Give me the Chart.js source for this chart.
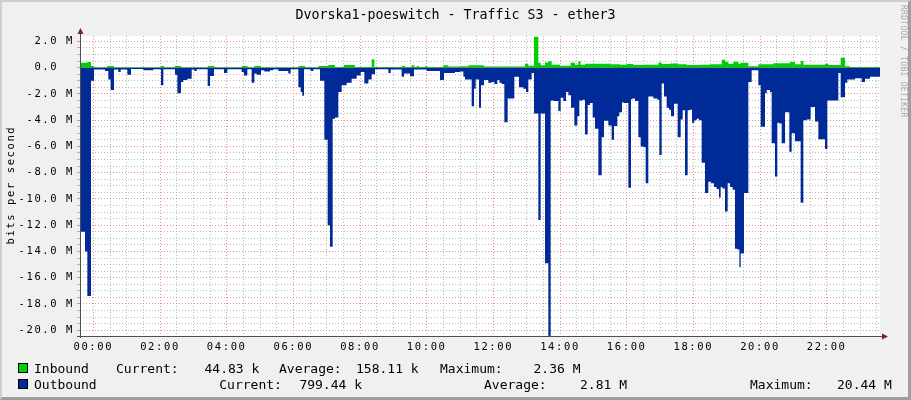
<!DOCTYPE html>
<html><head><meta charset="utf-8">
<script src="https://cdn.jsdelivr.net/npm/chart.js@4"></script>
<style>
html,body{margin:0;padding:0;background:#F0F0F0;}
#wrap{position:relative;width:911px;height:400px;overflow:hidden;background:#F0F0F0;font-family:"DejaVu Sans Mono",monospace;color:#000;}
canvas{position:absolute;left:0;top:0;}
.t{position:absolute;white-space:pre;}
.sq{position:absolute;width:8px;height:8px;border:1px solid #000;}
#frame{position:absolute;left:0;top:0;width:911px;height:400px;box-sizing:border-box;border-style:solid;border-width:2px 3px 3px 2px;border-color:#CFCFCF #9E9E9E #9E9E9E #CFCFCF;pointer-events:none;}
</style></head>
<body><div id="wrap"><canvas id="c" width="911" height="400"></canvas><div id="frame"></div></div>
<script>
// ---- data (values in M bits per second, times in hours) ----
const title = "Dvorska1-poeswitch - Traffic S3 - ether3";
const yAxisTitle = "bits per second";
const seriesNames = ["Inbound", "Outbound"];
const timeStart = -0.4, timeEnd = 23.6;
const xTickLabels = ["00:00","02:00","04:00","06:00","08:00","10:00","12:00","14:00","16:00","18:00","20:00","22:00"];

const inT = [-0.4,-0.18,-0.07,0.02,0.42,0.62,2.03,2.12,2.45,2.63,3.43,3.63,4.45,4.63,4.83,5.03,6.15,6.35,6.75,7.05,7.25,7.52,7.85,8.35,8.43,9.25,9.35,9.55,9.63,9.7,9.77,9.95,10.02,10.5,10.65,11.0,11.25,11.72,12.95,13.05,13.22,13.35,13.42,13.55,13.65,13.75,14.0,14.32,14.45,14.55,14.62,14.75,15.5,15.8,16.0,16.2,16.5,16.95,17.05,17.3,17.55,17.8,18.2,18.5,18.85,18.95,19.05,19.2,19.35,19.42,19.65,19.95,20.15,20.4,20.9,21.05,21.22,21.3,21.95,22.05,22.42,22.55,22.7];
const inV = [0.38,0.43,0.12,0.03,0.13,0.03,0.13,0.03,0.13,0.03,0.13,0.03,0.13,0.03,0.13,0.03,0.13,0.03,0.13,0.2,0.05,0.2,0.05,0.63,0.05,0.13,0.05,0.18,0.05,0.13,0.05,0.13,0.05,0.18,0.08,0.1,0.18,0.08,0.3,0.15,2.36,0.38,0.18,0.4,0.48,0.22,0.15,0.38,0.22,0.48,0.22,0.3,0.25,0.22,0.28,0.2,0.22,0.4,0.28,0.32,0.25,0.2,0.22,0.25,0.6,0.45,0.3,0.45,0.3,0.38,0.1,0.25,0.25,0.33,0.43,0.25,0.5,0.22,0.3,0.2,0.76,0.1,0.05];

const outT = [-0.4,-0.25,-0.18,-0.07,0.02,0.35,0.45,0.52,0.62,0.75,0.82,1.02,1.13,1.5,1.8,2.03,2.1,2.45,2.52,2.63,2.7,2.82,2.95,3.03,3.1,3.43,3.5,3.62,3.92,4.02,4.45,4.52,4.62,4.75,4.83,4.9,5.03,5.13,5.3,5.4,5.55,5.85,5.92,6.15,6.22,6.27,6.32,6.52,6.6,6.8,6.93,7.03,7.1,7.18,7.25,7.35,7.45,7.6,7.75,7.9,8.02,8.13,8.25,8.35,8.45,8.85,8.92,9.25,9.32,9.5,9.62,10.0,10.4,10.52,10.85,11.0,11.1,11.15,11.35,11.42,11.47,11.57,11.63,11.72,11.85,11.95,12.03,12.12,12.18,12.25,12.33,12.43,12.63,12.77,12.9,12.98,13.05,13.15,13.22,13.35,13.42,13.55,13.65,13.72,13.8,13.95,14.02,14.1,14.18,14.25,14.33,14.43,14.52,14.58,14.68,14.75,14.83,14.9,14.98,15.05,15.15,15.25,15.32,15.45,15.55,15.62,15.72,15.78,15.86,15.92,16.05,16.13,16.17,16.25,16.35,16.42,16.5,16.57,16.65,16.8,16.92,16.98,17.05,17.12,17.2,17.27,17.33,17.42,17.53,17.62,17.68,17.75,17.83,17.9,17.96,18.03,18.1,18.17,18.25,18.35,18.45,18.53,18.62,18.7,18.77,18.82,18.87,18.95,19.03,19.1,19.18,19.25,19.32,19.38,19.42,19.52,19.65,19.75,19.95,20.02,20.15,20.2,20.3,20.35,20.45,20.52,20.58,20.65,20.75,20.88,20.95,21.05,21.22,21.3,21.4,21.52,21.65,21.75,21.95,22.02,22.35,22.42,22.55,22.62,22.85,23.05,23.15,23.3];
const outV = [-12.5,-14.0,-17.4,-1.0,-0.15,-0.25,-0.9,-1.7,-0.15,-0.33,-0.15,-0.55,-0.1,-0.2,-0.12,-1.35,-0.12,-0.55,-1.95,-1.1,-0.95,-0.85,-0.15,-0.25,-0.12,-1.4,-0.63,-0.12,-0.4,-0.12,-0.33,-0.6,-0.12,-1.15,-0.45,-0.55,-0.2,-0.3,-0.2,-0.12,-0.25,-0.45,-0.12,-1.5,-1.85,-2.15,-0.12,-0.25,-0.12,-1.0,-5.5,-12.0,-13.65,-3.9,-3.8,-1.85,-1.35,-1.15,-0.85,-0.6,-0.33,-1.2,-0.9,-0.5,-0.12,-0.4,-0.15,-0.7,-0.45,-0.65,-0.15,-0.25,-0.95,-0.4,-0.33,-0.3,-0.7,-0.9,-2.95,-1.6,-0.9,-3.05,-1.35,-0.95,-1.15,-1.1,-1.25,-0.95,-1.15,-1.25,-4.15,-2.35,-0.7,-1.5,-1.6,-1.85,-0.9,-0.4,-3.5,-11.6,-3.5,-14.9,-20.44,-2.5,-2.55,-3.3,-2.3,-2.55,-1.85,-2.1,-3.05,-4.4,-3.7,-2.5,-2.45,-5.1,-2.85,-2.7,-3.8,-4.65,-8.2,-5.3,-4.05,-4.4,-5.5,-4.45,-3.7,-3.4,-2.65,-2.7,-9.15,-2.4,-2.35,-2.55,-5.3,-6.0,-6.05,-8.8,-2.2,-2.35,-2.45,-6.65,-1.2,-2.2,-3.05,-3.2,-3.7,-2.75,-5.3,-3.95,-3.25,-8.2,-3.25,-3.2,-4.2,-4.0,-3.9,-4.0,-7.25,-9.55,-8.7,-8.8,-9.1,-9.25,-9.9,-9.1,-9.2,-10.95,-8.8,-9.1,-9.3,-13.8,-13.85,-15.2,-14.15,-9.55,-1.1,-0.2,-1.35,-4.5,-1.95,-1.7,-1.85,-5.75,-8.3,-4.2,-4.25,-5.75,-3.4,-6.4,-5.0,-5.6,-10.3,-4.0,-3.95,-3.0,-4.1,-5.45,-6.2,-2.5,-0.4,-2.25,-1.15,-0.9,-0.8,-1.1,-0.85,-0.7];

const legendRows = [
  [["Inbound",34],["Current:",116],["44.83 k",204.5],["Average:",279],["158.11 k",356],["Maximum:",440],["2.36 M",533.5]],
  [["Outbound",34],["Current:",219.3],["799.44 k",299.4],["Average:",484],["2.81 M",580],["Maximum:",750],["20.44 M",837]]
];
const colors = {in:"#00CF00", out:"#002A97"};

// ---- text helpers ----
const wrap = document.getElementById('wrap');
function addText(str, x, baseline, fs, extra){
  const d = document.createElement('div');
  d.className = 't';
  d.textContent = str;
  d.style.fontSize = fs + 'px';
  d.style.lineHeight = (1.164*fs).toFixed(2) + 'px';
  d.style.left = x + 'px';
  d.style.top = (baseline - 0.928*fs) + 'px';
  if (extra) Object.assign(d.style, extra);
  wrap.insertBefore(d, document.getElementById('frame'));
  return d;
}
// title
addText(title, 0, 19.3, 13.3, {width:'911px', textAlign:'center'});
// y axis title (rotated)
addText(yAxisTitle, -90, 186 + 0.3*10.5, 10.5, {width:'200px', textAlign:'center', transform:'rotate(-90deg)', letterSpacing:'1.6px', transformOrigin:'100px 50%'});
// watermark
addText("RRDTOOL / TOBI OETIKER", 899, 12, 8, {writingMode:'vertical-rl', color:'#A8A8A8', letterSpacing:'0.3px', top:'5px'});
// legend
const rowBase = [373.3, 389];
const sqCol = [colors.in, colors.out];
legendRows.forEach((row, r) => {
  const s = document.createElement('div');
  s.className = 'sq';
  s.style.left = '18px';
  s.style.top = (rowBase[r] - 10) + 'px';
  s.style.background = sqCol[r];
  wrap.insertBefore(s, document.getElementById('frame'));
  row.forEach(([txt, x]) => addText(txt, x, rowBase[r], 13));
});

// ---- chart ----
function pts(T, V){
  const p = T.map((t,i)=>({x:t, y:V[i]}));
  p.push({x:timeEnd, y:V[V.length-1]});
  return p;
}
const isMajorY = v => Math.abs(v/2 - Math.round(v/2)) < 1e-6;
const isMajorX = v => Math.abs(v/2 - Math.round(v/2)) < 1e-6;

const deco = {
  id:'deco',
  beforeDraw(chart){
    const ctx = chart.ctx, a = chart.chartArea;
    ctx.save();
    ctx.fillStyle = '#FFFFFF';
    ctx.fillRect(a.left, a.top, a.right-a.left, a.bottom-a.top);
    ctx.restore();
    ctx.letterSpacing = '1.6px';
  },
  afterDraw(chart){
    const ctx = chart.ctx, a = chart.chartArea;
    ctx.letterSpacing = '0px';
    ctx.save();
    ctx.strokeStyle = '#4F4F4F';
    ctx.lineWidth = 1;
    ctx.beginPath();
    ctx.moveTo(Math.round(a.left)+0.5, Math.round(a.bottom)+2);
    ctx.lineTo(Math.round(a.left)+0.5, a.top-5);
    ctx.moveTo(a.left-3, Math.round(a.bottom)+0.5);
    ctx.lineTo(a.right+5, Math.round(a.bottom)+0.5);
    ctx.stroke();
    ctx.fillStyle = '#7F1F1F';
    const lx = Math.round(a.left)+0.5, by = Math.round(a.bottom)+0.5;
    ctx.beginPath();
    ctx.moveTo(lx, a.top-8); ctx.lineTo(lx-3, a.top-2); ctx.lineTo(lx+3, a.top-2); ctx.closePath(); ctx.fill();
    ctx.beginPath();
    ctx.moveTo(a.right+8, by); ctx.lineTo(a.right+2, by-3); ctx.lineTo(a.right+2, by+3); ctx.closePath(); ctx.fill();
    ctx.restore();
  }
};

new Chart(document.getElementById('c'), {
  type:'line',
  data:{datasets:[
    {label:seriesNames[1], data:pts(outT,outV), stepped:true, fill:'origin', backgroundColor:colors.out, borderColor:'rgba(0,0,0,0)', borderWidth:0, pointRadius:0, order:0},
    {label:seriesNames[0], data:pts(inT,inV), stepped:true, fill:'origin', backgroundColor:colors.in, borderColor:'rgba(0,0,0,0)', borderWidth:0, pointRadius:0, order:1}
  ]},
  options:{
    responsive:false, devicePixelRatio:1, animation:false,
    layout:{padding:{left:0, right:31, top:36, bottom:44}},
    plugins:{legend:{display:false}, tooltip:{enabled:false}, title:{display:false}},
    scales:{
      x:{type:'linear', min:timeStart, max:timeEnd, z:1,
        afterFit(s){ s.height = 20; },
        afterBuildTicks(s){ const t=[]; for(let h=0; h<=23.5+1e-9; h+=0.5) t.push({value:h}); s.ticks=t; },
        grid:{drawTicks:false, color:c=> (c.tick && isMajorX(c.tick.value)) ? 'rgba(222,48,48,0.55)' : 'rgba(143,143,143,0.6)', lineWidth:1},
        border:{display:false, dash:[1,2]},
        ticks:{autoSkip:false, maxRotation:0, padding:5, color:'#000', font:{family:'DejaVu Sans Mono', size:10.5},
          callback:(v)=> isMajorX(v) ? xTickLabels[Math.round(v/2)] : ''}
      },
      y:{type:'linear', min:-20.44, max:2.41, z:1,
        afterFit(s){ s.width = 80; },
        afterBuildTicks(s){ const t=[]; for(let v=-20; v<=2+1e-9; v+=0.5) t.push({value:v}); s.ticks=t; },
        grid:{drawTicks:true, tickLength:3, color:c=> (c.tick && isMajorY(c.tick.value)) ? 'rgba(222,48,48,0.55)' : 'rgba(143,143,143,0.6)', lineWidth:1},
        border:{display:false, dash:[1,2]},
        ticks:{autoSkip:false, padding:3, color:'#000', font:{family:'DejaVu Sans Mono', size:10.5},
          callback:(v)=> isMajorY(v) ? (Math.abs(v)<1e-9 ? '0.0  ' : v.toFixed(1)+' M') : ''}
      }
    }
  },
  plugins:[deco]
});
</script>
</body></html>
